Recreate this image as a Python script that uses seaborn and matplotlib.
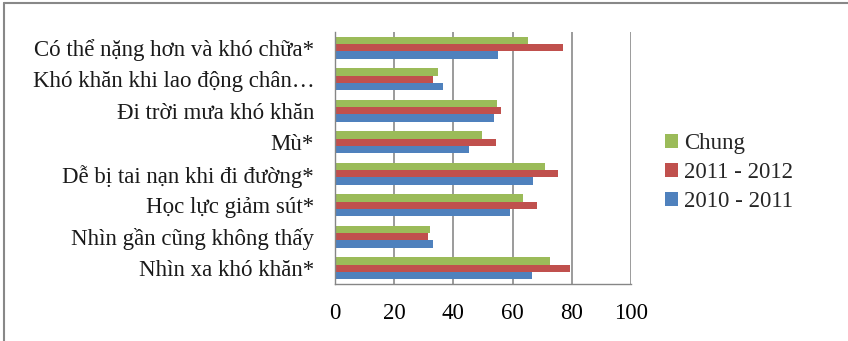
import matplotlib
matplotlib.use("Agg")
import matplotlib.pyplot as plt
from matplotlib.lines import Line2D
from matplotlib.ticker import FixedLocator
import seaborn as sns
import pandas as pd

categories = [
    "Có thể nặng hơn và khó chữa*",
    "Khó khăn khi lao động chân…",
    "Đi trời mưa khó khăn",
    "Mù*",
    "Dễ bị tai nạn khi đi đường*",
    "Học lực giảm sút*",
    "Nhìn gần cũng không thấy",
    "Nhìn xa khó khăn*",
]
series_names = ["Chung", "2011 - 2012", "2010 - 2011"]
chung = [65.3, 34.8, 54.8, 49.6, 70.8, 63.5, 32.2, 72.5]
y2011_2012 = [76.9, 33.1, 56.1, 54.3, 75.5, 68.2, 31.3, 79.5]
y2010_2011 = [55.2, 36.6, 53.6, 45.3, 67.0, 59.1, 33.1, 66.5]
x_ticks = [0, 20, 40, 60, 80, 100]

colors = ["#9BBB59", "#C0504D", "#4F81BD"]

rows = []
for name, vals in zip(series_names, [chung, y2011_2012, y2010_2011]):
    for c, v in zip(categories, vals):
        rows.append({"cat": c, "val": v, "series": name})
df = pd.DataFrame(rows)

sns.set_style("white")
plt.rcParams["font.family"] = ["Liberation Serif", "DejaVu Serif"]

FS = 16.5

fig = plt.figure(figsize=(8.48, 3.41), dpi=100)
ax = fig.add_axes([335 / 848, 1 - 284 / 341, 296 / 848, 252 / 341])

sns.barplot(data=df, y="cat", x="val", hue="series", order=categories,
            hue_order=series_names, palette=colors, width=0.69,
            saturation=1, ax=ax, legend=True, linewidth=0, edgecolor="none")

ax.set_xlim(0, 100)
ax.set_ylim(len(categories) - 0.5, -0.5)
ax.set_xticks(x_ticks)
ax.set_xticklabels([str(t) for t in x_ticks])
ax.set_xlabel("")
ax.set_ylabel("")

for s in ["top", "right"]:
    ax.spines[s].set_visible(False)
for s in ["left", "bottom"]:
    ax.spines[s].set_color("#868686")
    ax.spines[s].set_linewidth(1.0)

ax.grid(axis="x", color="#808080", linewidth=1.1)
ax.set_axisbelow(True)

# Category boundary ticks on y axis (Excel style)
ax.yaxis.set_minor_locator(FixedLocator([i - 0.5 for i in range(len(categories) + 1)]))
ax.tick_params(axis="y", which="major", length=0, pad=15, labelsize=FS, colors="black")
ax.tick_params(axis="y", which="minor", length=5, width=1.0, color="#868686", direction="out")
ax.tick_params(axis="x", which="major", length=5, width=1.0, color="#868686",
               direction="out", pad=9, labelsize=FS, labelcolor="black")
for lbl in ax.get_yticklabels():
    lbl.set_color("#1a1a1a")

leg = ax.legend(loc="upper left", bbox_to_anchor=(665 / 848, 1 - 133 / 341),
                bbox_transform=fig.transFigure, frameon=False, fontsize=FS,
                handlelength=0.55, handleheight=0.55, handletextpad=0.3,
                labelspacing=0.35, borderaxespad=0, borderpad=0)

# Outer chart frame (top and left edges visible)
fig.add_artist(Line2D([4 / 848, 1.0], [1 - 3 / 341, 1 - 3 / 341], color="#888888",
                      linewidth=1.5, transform=fig.transFigure))
fig.add_artist(Line2D([4 / 848, 4 / 848], [0.0, 1 - 3 / 341], color="#888888",
                      linewidth=1.5, transform=fig.transFigure))

fig.savefig("out.png", dpi=100)
